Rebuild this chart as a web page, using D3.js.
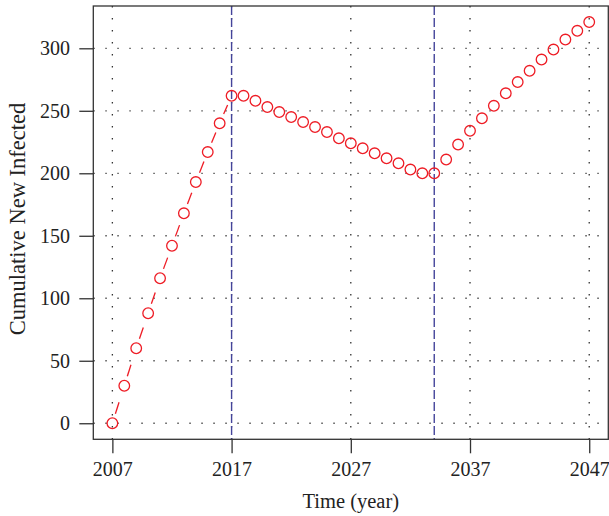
<!DOCTYPE html>
<html>
<head>
<meta charset="utf-8">
<script src="https://cdn.jsdelivr.net/npm/d3@7"></script>
<style>
  body { margin: 0; background: #fff; }
  text { font-family: "Liberation Serif", "Times New Roman", serif; fill: #222; }
</style>
</head>
<body>
<div id="chart"></div>
<script>
// data
var years = [2007, 2008, 2009, 2010, 2011, 2012, 2013, 2014, 2015, 2016, 2017,
             2018, 2019, 2020, 2021, 2022, 2023, 2024, 2025, 2026, 2027, 2028,
             2029, 2030, 2031, 2032, 2033, 2034, 2035, 2036, 2037, 2038, 2039,
             2040, 2041, 2042, 2043, 2044, 2045, 2046, 2047];
var infected = [0, 30, 60, 88, 116, 142, 168, 193, 217, 240, 262,
                262, 258, 253, 249, 245, 241, 237, 233, 228, 224, 220,
                216, 212, 208, 203, 200, 200, 211, 223, 234, 244, 254,
                264, 273, 282, 291, 299, 307, 314, 321];
var switchYears = [2017, 2034];
var xTicks = [2007, 2017, 2027, 2037, 2047];
var yTicks = [0, 50, 100, 150, 200, 250, 300];

// set the dimensions and margins of the graph
var margin = {top: 6, right: 0.7, bottom: 76.7, left: 93.3},
  width = 609 - margin.left - margin.right,
  height = 516 - margin.top - margin.bottom;

var svg = d3.select("#chart")
.append("svg")
  .attr("width", 609)
  .attr("height", 516)
.append("g")
  .attr("transform", "translate(" + margin.left + "," + margin.top + ")");

// R style 4% padding on both axes
var x = d3.scaleLinear().domain([2005.4, 2048.6]).range([0, width]);
var y = d3.scaleLinear().domain([-12.84, 333.84]).range([height, 0]);

var data = years.map(function(d, i) { return {year: d, value: infected[i]}; });

// dotted grid
svg.selectAll(".hgrid")
  .data(yTicks).enter()
  .append("line")
    .attr("x1", 0).attr("x2", width)
    .attr("y1", function(d) { return y(d); })
    .attr("y2", function(d) { return y(d); })
    .style("stroke", "#555")
    .style("stroke-width", 1.3)
    .style("stroke-dasharray", "1.5 10.5");

svg.selectAll(".vgrid")
  .data(xTicks).enter()
  .append("line")
    .attr("y1", 0).attr("y2", height)
    .attr("x1", function(d) { return x(d); })
    .attr("x2", function(d) { return x(d); })
    .style("stroke", "#333")
    .style("stroke-width", 1.3)
    .style("stroke-dasharray", "1.5 10.5");

// vertical marker lines
svg.selectAll(".switch")
  .data(switchYears).enter()
  .append("line")
    .attr("y1", 0).attr("y2", height)
    .attr("x1", function(d) { return x(d); })
    .attr("x2", function(d) { return x(d); })
    .style("stroke", "#44449a")
    .style("stroke-width", 1.4)
    .style("stroke-dasharray", "9 3");

// type="b": segments with a gap round each point
var gap = 10;
var segs = [];
for (var i = 1; i < data.length; i++) {
  var x0 = x(data[i-1].year), y0 = y(data[i-1].value),
      x1 = x(data[i].year), y1 = y(data[i].value);
  var len = Math.sqrt((x1-x0)*(x1-x0) + (y1-y0)*(y1-y0));
  if (len <= 2 * gap) continue;
  var ux = (x1-x0)/len, uy = (y1-y0)/len;
  segs.push([x0 + ux*gap, y0 + uy*gap, x1 - ux*gap, y1 - uy*gap]);
}
svg.selectAll(".seg")
  .data(segs).enter()
  .append("line")
    .attr("x1", function(d) { return d[0]; })
    .attr("y1", function(d) { return d[1]; })
    .attr("x2", function(d) { return d[2]; })
    .attr("y2", function(d) { return d[3]; })
    .style("stroke", "#ee1c25")
    .style("stroke-width", 1.3)
    .style("stroke-dasharray", "12 12");

svg.selectAll(".pt")
  .data(data).enter()
  .append("circle")
    .attr("cx", function(d) { return x(d.year); })
    .attr("cy", function(d) { return y(d.value); })
    .attr("r", 5.3)
    .style("fill", "none")
    .style("stroke", "#ee1c25")
    .style("stroke-width", 1.3);

// box
svg.append("rect")
  .attr("width", width).attr("height", height)
  .style("fill", "none")
  .style("stroke", "#333")
  .style("stroke-width", 1.3);

// axes
var yAxis = svg.append("g")
  .call(d3.axisLeft(y).tickValues(yTicks).tickSize(14).tickPadding(9.3));
var xAxis = svg.append("g")
  .attr("transform", "translate(0," + height + ")")
  .call(d3.axisBottom(x).tickValues(xTicks).tickFormat(d3.format("d")).tickSize(14).tickPadding(8.5));

[yAxis, xAxis].forEach(function(a) {
  a.select(".domain").remove();
  a.selectAll(".tick line").style("stroke", "#333").style("stroke-width", 1.3);
  a.selectAll(".tick text")
    .style("font-family", "'Liberation Serif', serif")
    .style("font-size", "20px")
    .style("fill", "#222");
});

// axis titles
svg.append("text")
  .attr("text-anchor", "middle")
  .attr("x", width / 2)
  .attr("y", 507.5 - margin.top)
  .style("font-size", "20.5px")
  .text("Time (year)");

svg.append("text")
  .attr("text-anchor", "middle")
  .attr("transform", "translate(" + (25 - margin.left) + "," + (219 - margin.top) + ") rotate(-90)")
  .style("font-size", "22.5px")
  .text("Cumulative New Infected");
</script>
</body>
</html>
